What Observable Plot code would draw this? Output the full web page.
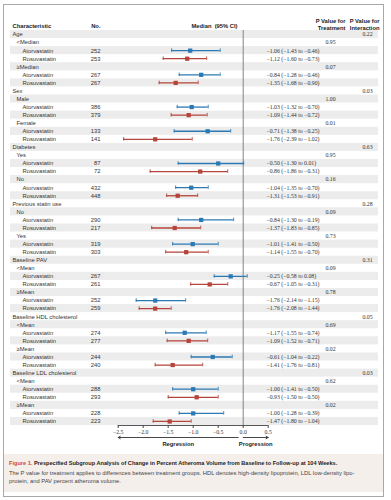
<!DOCTYPE html>
<html><head><meta charset="utf-8">
<script src="https://cdn.jsdelivr.net/npm/d3@7"></script>
<script src="https://cdn.jsdelivr.net/npm/@observablehq/plot@0.6"></script>
<style>
body{margin:0;background:#fff;font-family:"Liberation Sans",Arial,sans-serif;}
#wrap{position:relative;width:391px;height:500px;overflow:hidden;background:#fff;}
#frame{position:absolute;left:3px;top:4px;width:381px;height:493px;border:1.5px solid #a8a8a8;box-sizing:border-box;pointer-events:none;}
#chart{position:absolute;left:0;top:0;}
#caption{position:absolute;left:4px;top:454px;width:379px;height:38px;background:#f5efec;box-sizing:border-box;padding:5px 0 0 5px;font-size:5.8px;color:#444;line-height:8px;white-space:nowrap;}
#caption .fig{color:#cc4a32;font-weight:bold;}
#caption .ttl{color:#222;font-weight:bold;}
#caption .head{font-size:5.6px;}
#caption .body{margin-top:1.5px;}
</style>
</head><body>
<div id="wrap">
  <div id="chart"></div>
  <div id="caption">
    <div class="head"><span class="fig">Figure 1.</span> <span class="ttl">Prespecified Subgroup Analysis of Change in Percent Atheroma Volume from Baseline to Follow-up at 104 Weeks.</span></div>
    <div class="body">The P value for treatment applies to differences between treatment groups. HDL denotes high-density lipoprotein, LDL low-density lipo-<br>protein, and PAV percent atheroma volume.</div>
  </div>
  <div id="frame"></div>
</div>
<script>
const rowLabels = ["Age","<Median","Atorvastatin","Rosuvastatin","≥Median","Atorvastatin","Rosuvastatin",
  "Sex","Male","Atorvastatin","Rosuvastatin","Female","Atorvastatin","Rosuvastatin",
  "Diabetes","Yes","Atorvastatin","Rosuvastatin","No","Atorvastatin","Rosuvastatin",
  "Previous statin use","No","Atorvastatin","Rosuvastatin","Yes","Atorvastatin","Rosuvastatin",
  "Baseline PAV","<Mean","Atorvastatin","Rosuvastatin","≥Mean","Atorvastatin","Rosuvastatin",
  "Baseline HDL cholesterol","<Mean","Atorvastatin","Rosuvastatin","≥Mean","Atorvastatin","Rosuvastatin",
  "Baseline LDL cholesterol","<Mean","Atorvastatin","Rosuvastatin","≥Mean","Atorvastatin","Rosuvastatin"];
const rowLevels = [0,1,2,2,1,2,2, 0,1,2,2,1,2,2, 0,1,2,2,1,2,2, 0,1,2,2,1,2,2, 0,1,2,2,1,2,2, 0,1,2,2,1,2,2, 0,1,2,2,1,2,2];
const rowN = [null,null,252,253,null,267,267, null,null,386,379,null,133,141, null,null,87,72,null,432,448,
  null,null,290,217,null,319,303, null,null,267,261,null,252,259, null,null,274,277,null,244,240, null,null,288,293,null,228,223];
const medians = [null,null,-1.06,-1.12,null,-0.84,-1.35, null,null,-1.03,-1.09,null,-0.71,-1.76,
  null,null,-0.50,-0.86,null,-1.04,-1.31, null,null,-0.84,-1.37,null,-1.01,-1.14,
  null,null,-0.25,-0.67,null,-1.76,-1.76, null,null,-1.17,-1.09,null,-0.61,-1.41, null,null,-1.00,-0.93,null,-1.00,-1.47];
const ciLow = [null,null,-1.43,-1.60,null,-1.28,-1.68, null,null,-1.32,-1.44,null,-1.38,-2.39,
  null,null,-1.30,-1.86,null,-1.35,-1.53, null,null,-1.30,-1.83,null,-1.41,-1.55,
  null,null,-0.58,-1.05,null,-2.14,-2.08, null,null,-1.55,-1.52,null,-1.04,-1.76, null,null,-1.41,-1.50,null,-1.28,-1.80];
const ciHigh = [null,null,-0.46,-0.73,null,-0.46,-0.90, null,null,-0.70,-0.72,null,-0.25,-1.02,
  null,null,0.01,-0.31,null,-0.70,-0.91, null,null,-0.19,-0.85,null,-0.50,-0.70,
  null,null,0.08,-0.31,null,-1.15,-1.44, null,null,-0.74,-0.71,null,-0.22,-0.81, null,null,-0.50,-0.50,null,-0.39,-1.04];
const pTreatment = [null,0.95,null,null,0.07,null,null, null,1.00,null,null,0.01,null,null,
  null,0.95,null,null,0.16,null,null, null,0.09,null,null,0.73,null,null,
  null,0.09,null,null,0.78,null,null, null,0.69,null,null,0.02,null,null, null,0.62,null,null,0.02,null,null];
const pInteraction = [0.22,null,null,null,null,null,null, 0.03,null,null,null,null,null,null,
  0.63,null,null,null,null,null,null, 0.28,null,null,null,null,null,null,
  0.31,null,null,null,null,null,null, 0.05,null,null,null,null,null,null, 0.03,null,null,null,null,null,null];
const drugs = ["Atorvastatin","Rosuvastatin"];
const xTicks = [-2.5,-2.0,-1.5,-1.0,-0.5,0.0,0.5];
const headers = ["Characteristic","No.","Median  (95% CI)","P Value for\nTreatment","P Value for\nInteraction"];
const arrowLabels = ["Regression","Progression"];
const arrowFrom = [-0.1, 0.0];
const arrowTo = [-2.5, 0.5];

const rows = rowLabels.map((label, i) => ({i, label, level: rowLevels[i], n: rowN[i], median: medians[i],
  lo: ciLow[i], hi: ciHigh[i], pT: pTreatment[i], pI: pInteraction[i]}));
const ci = rows.filter(d => d.median != null);
const f2 = d3.format(".2f");
const arrows = arrowLabels.map((label, k) => ({label, from: arrowFrom[k], to: arrowTo[k], mid: (arrowFrom[k] + arrowTo[k]) / 2}));
const last = rows.length - 1;
const serif = "'Liberation Serif', 'DejaVu Serif', serif";
const indent = [2, 6, 12];

const chart = Plot.plot({
  width: 391, height: 452,
  marginTop: 30, marginBottom: 27, marginLeft: 10, marginRight: 13,
  x: {domain: [-4.654, 2.706], axis: null},
  y: {domain: [-0.5, last + 0.5], reverse: true, axis: null},
  color: {domain: drugs, range: ["#2b79b3", "#b5443a"]},
  style: {fontFamily: "'Liberation Sans', Arial, sans-serif", fontSize: "5.8px", color: "#333", background: "transparent", overflow: "visible"},
  marks: [
    Plot.rect(rows.filter(d => d.i % 2 === 0), {y1: d => d.i - 0.5, y2: d => d.i + 0.5, fill: "#ececec"}),
    Plot.ruleX([0], {stroke: "#777", strokeWidth: 0.9}),
    Plot.ruleY(ci, {y: "i", x1: "lo", x2: "hi", stroke: "label", strokeWidth: 1.3}),
    Plot.ruleX(ci, {x: "lo", y1: d => d.i - 0.22, y2: d => d.i + 0.22, stroke: "label", strokeWidth: 0.9}),
    Plot.ruleX(ci, {x: "hi", y1: d => d.i - 0.22, y2: d => d.i + 0.22, stroke: "label", strokeWidth: 0.9}),
    Plot.dot(ci, {x: "median", y: "i", symbol: "square", r: 2.4, fill: "label", stroke: "none"}),
    ...[0, 1, 2].map(lv => Plot.text(rows.filter(d => d.level === lv), {y: "i", text: "label", frameAnchor: "left", dx: indent[lv], textAnchor: "start", fill: "#333"})),
    Plot.text(ci, {y: "i", text: d => String(d.n), frameAnchor: "left", dx: 90, textAnchor: "end", fill: "#333"}),
    Plot.text(ci, {y: "i", text: d => `${f2(d.median)} (${f2(d.lo)} to ${f2(d.hi)})`, frameAnchor: "left", dx: 256, textAnchor: "start", fontFamily: serif, fill: "#333"}),
    Plot.text(rows.filter(d => d.pT != null), {y: "i", text: d => f2(d.pT), frameAnchor: "left", dx: 320, textAnchor: "middle", fontFamily: serif, fill: "#333"}),
    Plot.text(rows.filter(d => d.pI != null), {y: "i", text: d => f2(d.pI), frameAnchor: "left", dx: 357, textAnchor: "middle", fontFamily: serif, fill: "#333"}),
    Plot.text([headers[0]], {frameAnchor: "top-left", dx: 2, dy: -7, textAnchor: "start", fontWeight: "bold", fill: "#222"}),
    Plot.text([headers[1]], {frameAnchor: "top-left", dx: 90, dy: -7, textAnchor: "end", fontWeight: "bold", fill: "#222"}),
    Plot.text([headers[2]], {frameAnchor: "top-left", dx: 204, dy: -7, textAnchor: "middle", fontWeight: "bold", fill: "#222"}),
    Plot.text([headers[3]], {frameAnchor: "top-left", dx: 335, dy: -12, textAnchor: "end", fontWeight: "bold", fill: "#222", lineHeight: 1.2}),
    Plot.text([headers[4]], {frameAnchor: "top-left", dx: 369, dy: -12, textAnchor: "end", fontWeight: "bold", fill: "#222", lineHeight: 1.2}),
    Plot.ruleY([last + 0.5], {x1: xTicks[0], x2: xTicks[xTicks.length - 1], stroke: "#444", strokeWidth: 0.9}),
    Plot.axisX({ticks: xTicks, anchor: "bottom", tickSize: 3, tickPadding: 1, tickFormat: d3.format(".1f"), fontFamily: serif, fontSize: "5.8px", stroke: "#444", color: "#333"}),
    Plot.arrow(arrows, {x1: "from", x2: "to", y1: last + 0.5, y2: last + 0.5, dy: 12, headLength: 4, strokeWidth: 0.9, stroke: "#333"}),
    Plot.text(arrows, {x: "mid", text: "label", frameAnchor: "bottom", dy: 20, textAnchor: "middle", fontWeight: "bold", fill: "#222"})
  ]
});
document.getElementById("chart").appendChild(chart);
</script>
</body></html>
